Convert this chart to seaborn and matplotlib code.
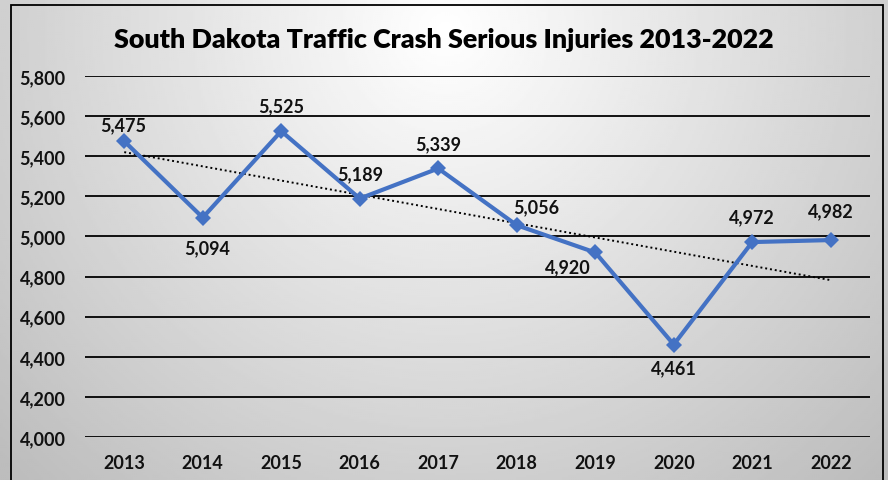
import numpy as np
import pandas as pd
import matplotlib.pyplot as plt
import matplotlib.patches as mpatches
import seaborn as sns

# data
years = [2013, 2014, 2015, 2016, 2017, 2018, 2019, 2020, 2021, 2022]
injuries = [5475, 5094, 5525, 5189, 5339, 5056, 4920, 4461, 4972, 4982]
# label offsets in points (dx, dy) as placed in the original
label_offsets = [(-1, 12), (3, -22), (0, 18), (0, 18), (0, 18),
                 (14, 13), (-20, -10), (0, -17), (0, 18), (0, 21)]
y_ticks = list(range(4000, 5801, 200))

df = pd.DataFrame({'year': [str(y) for y in years], 'injuries': injuries})
df['pos'] = np.arange(len(df))

sns.set_style('white')
plt.rcParams['font.family'] = ['Lato', 'DejaVu Sans']
plt.rcParams['font.weight'] = 'bold'

fig = plt.figure(figsize=(8.88, 4.81), dpi=100)

# radial gray gradient background
bg = fig.add_axes([0, 0, 1, 1], zorder=-5)
gx, gy = np.meshgrid(np.linspace(0, 888, 444), np.linspace(0, 481, 241))
d = np.sqrt((gx - 445) ** 2 + (gy - 30) ** 2) / 620
val = 1 - 0.26 * np.clip(d, 0, 1)
bg.imshow(val, cmap='gray', vmin=0, vmax=1, aspect='auto',
          extent=[0, 1, 0, 1], origin='upper')
bg.set_axis_off()

ax = fig.add_axes([85 / 888, 1 - 438 / 481, 785 / 888, 361 / 481])
ax.set_facecolor('none')

# linear trendline
coef = np.polyfit(df['pos'], df['injuries'], 1)
ax.plot(df['pos'], np.polyval(coef, df['pos']), color='black',
        linestyle=(0, (1, 1.5)), linewidth=1.4, zorder=2)

sns.lineplot(data=df, x='pos', y='injuries', ax=ax, color='#4472C4',
             linewidth=3, marker='D', markersize=8, markeredgewidth=0,
             zorder=3)

for (p, v), (dx, dy) in zip(zip(df['pos'], df['injuries']), label_offsets):
    ax.annotate(f'{v:,}', (p, v), xytext=(dx, dy), textcoords='offset points',
                ha='center', va='center', fontsize=13, fontweight='bold',
                color='#111111')

ax.set_xlim(-0.5, len(df) - 0.5)
ax.set_ylim(4000, 5800)
ax.set_yticks(y_ticks)
ax.set_yticklabels([f'{t:,}' for t in y_ticks])
ax.set_xticks(df['pos'])
ax.set_xticklabels(df['year'])
ax.tick_params(axis='both', length=0, labelsize=13, colors='#111111')
ax.tick_params(axis='y', pad=14)
ax.tick_params(axis='x', pad=12)
for lab in ax.get_xticklabels() + ax.get_yticklabels():
    lab.set_fontweight('bold')
ax.grid(axis='y', color='black', linewidth=1.3)
ax.set_axisbelow(True)
sns.despine(ax=ax, left=True, bottom=True)
ax.set_xlabel('')
ax.set_ylabel('')

fig.text(0.5, 1 - 40 / 481, 'South Dakota Traffic Crash Serious Injuries 2013-2022',
         ha='center', va='center', fontsize=19.4, fontweight='heavy', color='black')

# chart border
fig.patches.append(mpatches.Rectangle((11 / 888, -0.02), 872 / 888, 1.02 - 6 / 481,
                                      transform=fig.transFigure, fill=False,
                                      edgecolor='black', linewidth=1.3))

fig.savefig('out.png', dpi=100)
